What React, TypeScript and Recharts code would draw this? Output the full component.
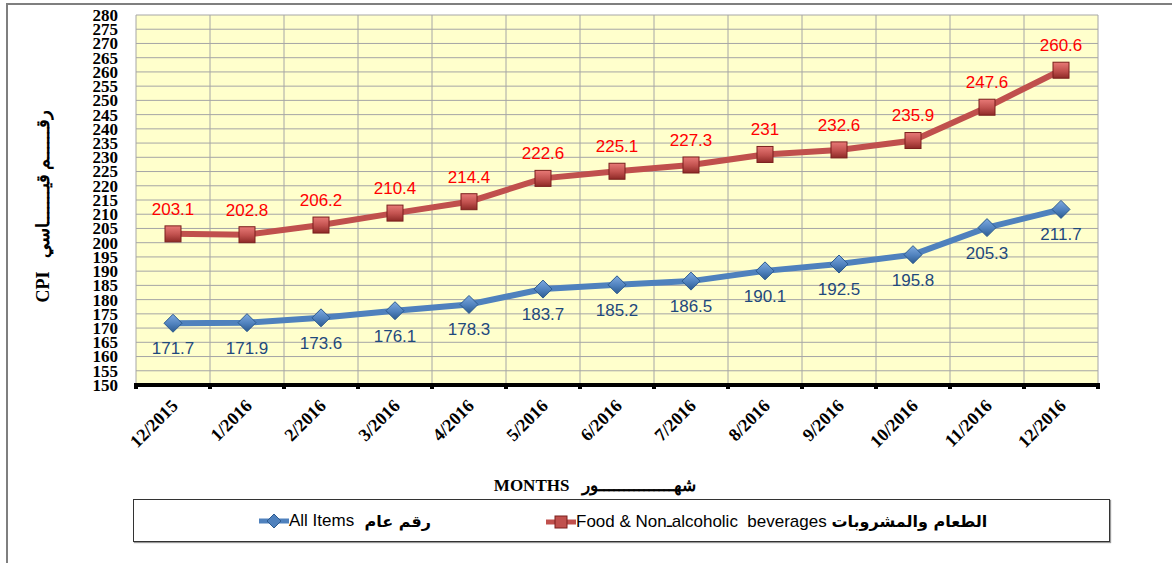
import {
  CartesianGrid,
  LabelList,
  Legend,
  Line,
  LineChart,
  ReferenceLine,
  XAxis,
  YAxis,
} from "recharts";

const MONTHS = [
  "12/2015", "1/2016", "2/2016", "3/2016", "4/2016", "5/2016", "6/2016",
  "7/2016", "8/2016", "9/2016", "10/2016", "11/2016", "12/2016",
];
const ALL_ITEMS = [171.7, 171.9, 173.6, 176.1, 178.3, 183.7, 185.2, 186.5, 190.1, 192.5, 195.8, 205.3, 211.7];
const FOOD = [203.1, 202.8, 206.2, 210.4, 214.4, 222.6, 225.1, 227.3, 231, 232.6, 235.9, 247.6, 260.6];
const Y_TICKS = [
  150, 155, 160, 165, 170, 175, 180, 185, 190, 195, 200, 205, 210, 215,
  220, 225, 230, 235, 240, 245, 250, 255, 260, 265, 270, 275, 280,
];

const BLUE = "#4F81BD";
const RED = "#C0504D";
const SERIF = "'Liberation Serif', 'Times New Roman', serif";
const SANS = "'Liberation Sans', Arial, sans-serif";

const data = MONTHS.map((m, i) => ({ idx: i, month: m, all: ALL_ITEMS[i], food: FOOD[i] }));
// month centers at integers, tick marks between them
const X_TICKS = MONTHS.flatMap((_, i) => [i - 0.5, i]).concat(MONTHS.length - 0.5);
const EDGES = X_TICKS.filter((t) => t % 1 !== 0);

const MonthTick = (p: any) => {
  const v = p.payload.value;
  if (v % 1 !== 0) {
    return <rect x={p.x - 2} y={p.y - 2} width={4} height={6} fill="#000" />;
  }
  const ax = p.x + 6;
  const ay = p.y + 22;
  return (
    <text
      x={ax}
      y={ay}
      transform={`rotate(-45, ${ax}, ${ay})`}
      textAnchor="end"
      fontFamily={SERIF}
      fontWeight="bold"
      fontSize={18}
      fill="#000"
    >
      {MONTHS[v]}
    </text>
  );
};

const ValueTick = (p: any) => (
  <text
    x={p.x}
    y={p.y}
    dy="0.35em"
    textAnchor="end"
    fontFamily={SERIF}
    fontWeight="bold"
    fontSize={17}
    fill="#000"
  >
    {p.payload.value}
  </text>
);

const valueLabel = (dy: number, color: string) => (p: any) => (
  <text
    x={p.x}
    y={p.y + dy}
    dy="0.35em"
    textAnchor="middle"
    fontFamily={SANS}
    fontSize={17}
    fill={color}
  >
    {p.value}
  </text>
);

const SquareDot = (p: any) => (
  <rect
    key={`s${p.index}`}
    x={p.cx - 8}
    y={p.cy - 8}
    width={16}
    height={16}
    fill="url(#redGrad)"
    stroke="#7A1F1D"
    strokeWidth={1}
  />
);

const DiamondDot = (p: any) => (
  <polygon
    key={`d${p.index}`}
    points={`${p.cx},${p.cy - 9} ${p.cx + 9},${p.cy} ${p.cx},${p.cy + 9} ${p.cx - 9},${p.cy}`}
    fill="url(#blueGrad)"
    stroke="#2C5A8F"
    strokeWidth={1}
  />
);

function LegendIcon({ color, shape }: { color: string; shape: "square" | "diamond" }) {
  return (
    <svg width={30} height={16} style={{ display: "block" }}>
      <line x1={0} y1={8} x2={30} y2={8} stroke={color} strokeWidth={5} />
      {shape === "square" ? (
        <rect x={9} y={2} width={12} height={12} fill={RED} stroke="#7A1F1D" />
      ) : (
        <polygon points="15,1 22,8 15,15 8,8" fill={BLUE} stroke="#2C5A8F" />
      )}
    </svg>
  );
}

function LegendBox() {
  const item = { position: "absolute" as const, top: 11, display: "flex", alignItems: "center", whiteSpace: "pre" as const };
  const arabic = { fontWeight: "bold" as const, fontFamily: "'DejaVu Sans', sans-serif", fontSize: 16 };
  return (
    <div
      style={{
        position: "relative",
        height: 43,
        boxSizing: "border-box",
        border: "1px solid #333",
        boxShadow: "1px 1px 1px #999",
        background: "#fff",
        fontFamily: SANS,
        fontSize: 17,
        color: "#000",
      }}
    >
      <div style={{ ...item, left: 125 }}>
        <LegendIcon color={BLUE} shape="diamond" />
        <span>All Items </span>
        <span style={arabic}> رقم عام</span>
      </div>
      <div style={{ ...item, left: 412 }}>
        <LegendIcon color={RED} shape="square" />
        <span>Food &amp; Nonـalcoholic  beverages </span>
        <span style={arabic}>الطعام والمشروبات</span>
      </div>
    </div>
  );
}

export default function App() {
  return (
    <div style={{ position: "absolute", left: 0, top: 0, width: 1172, height: 563, background: "#fff" }}>
      <div
        style={{
          position: "absolute",
          left: 6,
          top: 3,
          right: 0,
          bottom: 0,
          borderLeft: "2px solid #7f7f7f",
          borderTop: "2px solid #7f7f7f",
        }}
      />
      <LineChart
        width={1172}
        height={563}
        data={data}
        margin={{ top: 15, right: 74, left: 0, bottom: 21 }}
        style={{ position: "absolute", left: 0, top: 0 }}
      >
        <defs>
          <linearGradient id="redGrad" x1="0" y1="0" x2="0" y2="1">
            <stop offset="0%" stopColor="#E87A77" />
            <stop offset="55%" stopColor="#C0504D" />
            <stop offset="100%" stopColor="#8E2A27" />
          </linearGradient>
          <linearGradient id="blueGrad" x1="0" y1="0" x2="0" y2="1">
            <stop offset="0%" stopColor="#7FAAE0" />
            <stop offset="55%" stopColor="#4F81BD" />
            <stop offset="100%" stopColor="#2C5A8F" />
          </linearGradient>
        </defs>
        <CartesianGrid vertical={false} fill="#FFFFCC" stroke="#A6A6A6" strokeWidth={1} />
        {EDGES.map((e) => (
          <ReferenceLine key={e} x={e} stroke="#A6A6A6" strokeWidth={1} ifOverflow="visible" />
        ))}
        <XAxis
          type="number"
          dataKey="idx"
          domain={[-0.5, MONTHS.length - 0.5]}
          ticks={X_TICKS}
          interval={0}
          height={114}
          tickLine={false}
          tickSize={0}
          tickMargin={0}
          axisLine={{ stroke: "#000", strokeWidth: 4 }}
          tick={MonthTick}
          label={{
            content: (p: any) => (
              <text
                x={595}
                y={p.viewBox.y + 100}
                dy="0.35em"
                textAnchor="middle"
                fontFamily={SERIF}
                fontWeight="bold"
                fontSize={17}
                fill="#000"
                style={{ whiteSpace: "pre" }}
              >
                {"MONTHS   شهـــــــــــــــور"}
              </text>
            ),
          }}
        />
        <YAxis
          type="number"
          domain={[150, 280]}
          ticks={Y_TICKS}
          interval={0}
          width={136}
          tickLine={false}
          axisLine={false}
          tickSize={0}
          tickMargin={18}
          tick={ValueTick}
          label={{
            content: (p: any) => (
              <text
                x={43}
                y={p.viewBox.y + p.viewBox.height / 2 + 6}
                transform={`rotate(-90, 43, ${p.viewBox.y + p.viewBox.height / 2 + 6})`}
                textAnchor="middle"
                dy="0.35em"
                direction="ltr"
                fontFamily={SERIF}
                fontWeight="bold"
                fontSize={18}
                fill="#000"
                style={{ whiteSpace: "pre" }}
              >
                {"CPI   رقــــــم قيـــــــاسي"}
              </text>
            ),
          }}
        />
        <Line
          dataKey="food"
          stroke={RED}
          strokeWidth={6}
          dot={SquareDot}
          activeDot={false}
          isAnimationActive={false}
        >
          <LabelList dataKey="food" content={valueLabel(-25, "#FF0000")} />
        </Line>
        <Line
          dataKey="all"
          stroke={BLUE}
          strokeWidth={6}
          dot={DiamondDot}
          activeDot={false}
          isAnimationActive={false}
        >
          <LabelList dataKey="all" content={valueLabel(25, "#1F497D")} />
        </Line>
        <Legend
          verticalAlign="bottom"
          height={43}
          content={() => <LegendBox />}
          wrapperStyle={{ left: 133, width: 977 }}
        />
      </LineChart>
    </div>
  );
}
